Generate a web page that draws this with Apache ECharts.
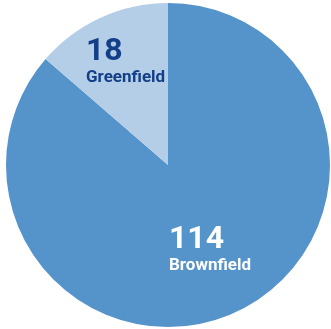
<!DOCTYPE html>
<html>
<head>
<meta charset="utf-8">
<script src="https://cdn.jsdelivr.net/npm/echarts@6/dist/echarts.min.js"></script>
<style>
html,body{margin:0;padding:0;background:#fff;}
#main{width:331px;height:329px;}
</style>
</head>
<body>
<div id="main"></div>
<script>
var names = ['Brownfield', 'Greenfield'];
var values = [114, 18];
var colors = ['#5593cb', '#b4cee8'];
var textColors = ['#ffffff', '#123f88'];
// label anchor (left, top) in pixels
var labelPos = [[169, 223], [86, 35]];

var myChart = echarts.init(document.getElementById('main'));

var data = [];
for (var i = 0; i < names.length; i++) {
	data.push({
		name: names[i],
		value: values[i],
		itemStyle: { color: colors[i] },
		label: {
			rich: {
				n: { fontSize: 32, fontWeight: 'bold', color: textColors[i], lineHeight: 33, fontFamily: 'Roboto' },
				t: { fontSize: 17, fontWeight: 'bold', color: textColors[i], lineHeight: 19, fontFamily: 'Roboto' }
			}
		}
	});
}

option = {
	backgroundColor: '#ffffff',
	animation: false,
	series: [{
		type: 'pie',
		center: [168, 165],
		radius: 162,
		startAngle: 90,
		clockwise: true,
		data: data,
		label: {
			show: true,
			position: 'inside',
			align: 'left',
			formatter: function (p) {
				return '{n|' + p.value + '}\n{t|' + p.name + '}';
			}
		},
		labelLine: { show: false },
		emphasis: { disabled: true }
	}]
};

option.series[0].labelLayout = function (params) {
	var p = labelPos[params.dataIndex];
	return { x: p[0], y: p[1], align: 'left', verticalAlign: 'top' };
};

myChart.setOption(option);
</script>
</body>
</html>
